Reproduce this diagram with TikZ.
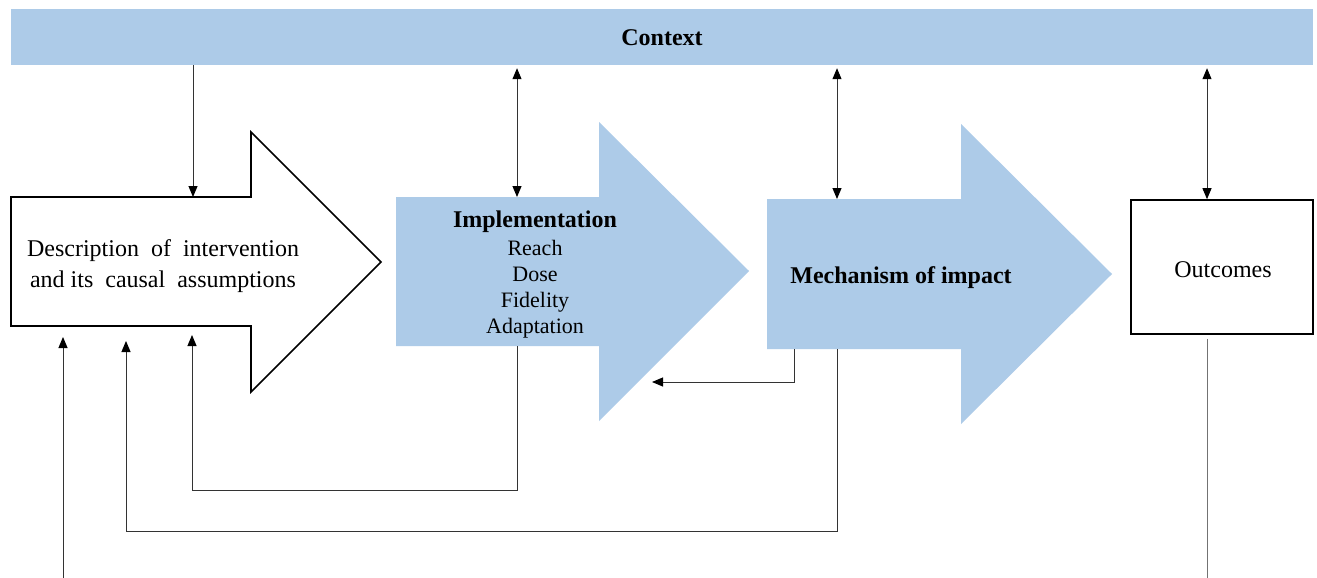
\documentclass[tikz,border=0pt]{standalone}
\usepackage{fontspec}
\setmainfont{Liberation Serif}
\usetikzlibrary{arrows.meta}
\definecolor{paleblue}{RGB}{173,203,232}
\begin{document}
\begin{tikzpicture}[x=1pt,y=-1pt,
  link/.style={draw=black!80, line width=1pt},
  tipend/.style={-{Triangle[length=11pt,width=9pt,color=black]}},
  bothends/.style={{Triangle[length=11pt,width=9pt,color=black]}-{Triangle[length=11pt,width=9pt,color=black]}},
  bigtxt/.style={font=\fontsize{24}{28}\selectfont, inner sep=0pt, anchor=base},
  boldtxt/.style={font=\fontsize{24}{28}\selectfont\bfseries, inner sep=0pt, anchor=base},
  smalltxt/.style={font=\fontsize{22}{26}\selectfont, inner sep=0pt, anchor=base}]
\useasboundingbox (0,0) rectangle (1317,578);
\fill[white] (0,0) rectangle (1317,578);

% context bar
\node[fill=paleblue, minimum width=1302pt, minimum height=56pt, inner sep=0pt] (ctx) at (662,37) {};
\node[boldtxt] (ctxlabel) at (662,46) {Context};

% white arrow: description of the intervention
\draw[line width=1.6pt, fill=white, line join=miter]
  (11,197) -- (251,197) -- (251,132) -- (381,262) -- (251,392) -- (251,326) -- (11,326) -- cycle;
\node[bigtxt] (desc1) at (163,256) {Description\ \ of\ \ intervention};
\node[bigtxt] (desc2) at (163,287) {and its\ \ causal\ \ assumptions};

% blue arrow: implementation
\fill[paleblue]
  (396,197) -- (599,197) -- (599,122) -- (749,271) -- (599,421) -- (599,346) -- (396,346) -- cycle;
\node[boldtxt] (impl) at (535,227) {Implementation};
\node[smalltxt] (impl1) at (535,255) {Reach};
\node[smalltxt] (impl2) at (535,281) {Dose};
\node[smalltxt] (impl3) at (535,307) {Fidelity};
\node[smalltxt] (impl4) at (535,333) {Adaptation};

% blue arrow: mechanism of impact
\fill[paleblue]
  (767,199) -- (961,199) -- (961,124) -- (1112,274) -- (961,424) -- (961,349) -- (767,349) -- cycle;
\node[boldtxt] (mech) at (901,283) {Mechanism of impact};

% outcomes box
\node[draw, line width=1.6pt, fill=white, minimum width=182pt, minimum height=134pt, inner sep=0pt] (out) at (1222,267) {};
\node[bigtxt] (outlabel) at (1223,277) {Outcomes};

% connection points on the arrow shapes
\coordinate (dIn) at (193,197);
\coordinate (iIn) at (517,197);
\coordinate (mIn) at (837,199);
\coordinate (oIn) at (1207,200);
\coordinate (iOut) at (517,346);
\coordinate (mOut) at (837,349);
\coordinate (mOutB) at (794,349);
\coordinate (iBack) at (652,382);
\coordinate (dFbA) at (192,335);
\coordinate (dFbB) at (126,341);
\coordinate (dFbC) at (63,337);
\coordinate (lowL) at (63,578);
\coordinate (lowR) at (1207,578);

% connectors
\draw[link, tipend] (ctx.south -| dIn) -- (dIn);
\draw[link, bothends, shorten <=3pt] (ctx.south -| iIn) -- (iIn);
\draw[link, bothends, shorten <=3pt] (ctx.south -| mIn) -- (mIn);
\draw[link, bothends, shorten <=3pt] (ctx.south -| oIn) -- (out.north -| oIn);
\draw[link, tipend] (iOut) -- ++(0,144) -| (dFbA);
\draw[link, tipend] (mOut) -- ++(0,182) -| (dFbB);
\draw[link, tipend] (mOutB) |- (iBack);
\draw[link, tipend] (lowL) -- (dFbC);
\draw[link, draw=black!55, shorten <=4pt] (out.south -| oIn) -- (lowR);
\end{tikzpicture}
\end{document}
